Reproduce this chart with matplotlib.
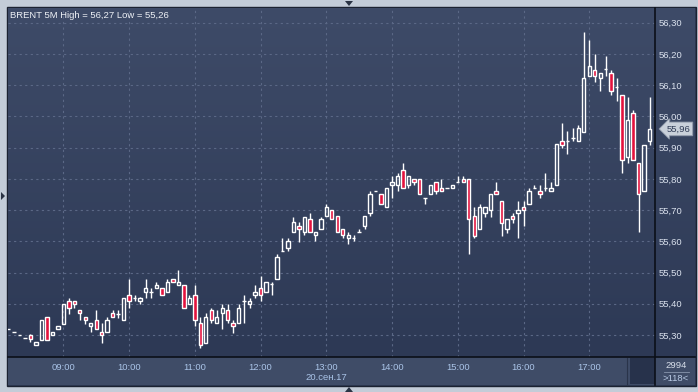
import numpy as np
import pandas as pd
import matplotlib
matplotlib.use("Agg")
import matplotlib.pyplot as plt
from matplotlib.patches import Rectangle, Polygon
from matplotlib.lines import Line2D
from matplotlib.colors import LinearSegmentedColormap

plt.rcParams["font.family"] = ["Liberation Sans", "DejaVu Sans"]

# 5 minute candles, BRENT, 20.09.2017
opens = [55.32, 55.31, 55.30, 55.29, 55.30, 55.267, 55.285, 55.357, 55.30, 55.318,
         55.336, 55.408, 55.408, 55.379, 55.357, 55.328, 55.347, 55.309, 55.309, 55.369,
         55.367, 55.347, 55.427, 55.418, 55.408, 55.437, 55.437, 55.449, 55.449, 55.437,
         55.478, 55.459, 55.459, 55.398, 55.427, 55.338, 55.275, 55.379, 55.338, 55.369,
         55.379, 55.338, 55.338, 55.408, 55.398, 55.427, 55.449, 55.437, 55.462, 55.478,
         55.568, 55.578, 55.63, 55.65, 55.63, 55.67, 55.619, 55.639, 55.68, 55.70,
         55.68, 55.639, 55.61, 55.61, 55.63, 55.648, 55.69, 55.76, 55.75, 55.709,
         55.78, 55.78, 55.83, 55.78, 55.80, 55.80, 55.74, 55.75, 55.79, 55.77,
         55.77, 55.77, 55.79, 55.80, 55.80, 55.68, 55.638, 55.69, 55.70, 55.76,
         55.73, 55.638, 55.68, 55.69, 55.71, 55.72, 55.77, 55.76, 55.77, 55.76,
         55.78, 55.92, 55.92, 55.93, 55.92, 55.95, 56.13, 56.15, 56.122, 56.152,
         56.14, 56.093, 56.07, 55.87, 56.01, 55.85, 55.76, 55.92]
highs = [55.32, 55.31, 55.30, 55.29, 55.303, 55.277, 55.347, 55.357, 55.309, 55.328,
         55.398, 55.418, 55.408, 55.379, 55.357, 55.338, 55.379, 55.338, 55.357, 55.379,
         55.379, 55.418, 55.479, 55.427, 55.423, 55.478, 55.449, 55.469, 55.449, 55.478,
         55.478, 55.508, 55.459, 55.427, 55.459, 55.358, 55.371, 55.388, 55.379, 55.398,
         55.398, 55.347, 55.398, 55.427, 55.418, 55.459, 55.488, 55.469, 55.469, 55.56,
         55.61, 55.61, 55.679, 55.661, 55.679, 55.69, 55.629, 55.679, 55.719, 55.70,
         55.68, 55.639, 55.63, 55.62, 55.64, 55.68, 55.76, 55.76, 55.75, 55.77,
         55.81, 55.82, 55.852, 55.81, 55.80, 55.80, 55.74, 55.78, 55.79, 55.80,
         55.77, 55.78, 55.81, 55.81, 55.80, 55.71, 55.72, 55.71, 55.75, 55.79,
         55.73, 55.67, 55.69, 55.73, 55.73, 55.77, 55.78, 55.78, 55.82, 55.79,
         55.912, 55.98, 55.953, 55.963, 55.973, 56.27, 56.245, 56.20, 56.14, 56.192,
         56.15, 56.122, 56.07, 56.062, 56.02, 55.85, 55.91, 56.062]
lows = [55.32, 55.31, 55.30, 55.29, 55.277, 55.267, 55.285, 55.285, 55.30, 55.318,
        55.336, 55.368, 55.387, 55.347, 55.336, 55.309, 55.318, 55.276, 55.309, 55.357,
        55.353, 55.347, 55.387, 55.408, 55.398, 55.418, 55.418, 55.449, 55.427, 55.437,
        55.469, 55.459, 55.388, 55.398, 55.328, 55.26, 55.275, 55.338, 55.338, 55.318,
        55.338, 55.307, 55.338, 55.338, 55.388, 55.418, 55.408, 55.437, 55.427, 55.478,
        55.568, 55.568, 55.63, 55.599, 55.62, 55.63, 55.60, 55.639, 55.68, 55.67,
        55.63, 55.61, 55.59, 55.60, 55.63, 55.638, 55.68, 55.76, 55.719, 55.709,
        55.738, 55.76, 55.77, 55.77, 55.78, 55.75, 55.719, 55.75, 55.75, 55.76,
        55.77, 55.77, 55.79, 55.79, 55.56, 55.61, 55.638, 55.679, 55.679, 55.75,
        55.618, 55.628, 55.66, 55.61, 55.648, 55.72, 55.77, 55.74, 55.76, 55.76,
        55.78, 55.90, 55.88, 55.92, 55.92, 55.95, 56.13, 56.11, 56.08, 56.13,
        56.07, 56.05, 55.82, 55.85, 55.86, 55.63, 55.76, 55.91]
closes = [55.32, 55.31, 55.30, 55.29, 55.287, 55.277, 55.347, 55.285, 55.309, 55.328,
          55.398, 55.387, 55.398, 55.369, 55.347, 55.338, 55.318, 55.30, 55.347, 55.357,
          55.367, 55.418, 55.408, 55.418, 55.418, 55.449, 55.437, 55.459, 55.427, 55.469,
          55.469, 55.469, 55.388, 55.418, 55.347, 55.267, 55.358, 55.347, 55.358, 55.388,
          55.347, 55.328, 55.388, 55.408, 55.408, 55.437, 55.427, 55.469, 55.462, 55.551,
          55.568, 55.602, 55.661, 55.64, 55.679, 55.63, 55.629, 55.67, 55.709, 55.67,
          55.63, 55.62, 55.62, 55.61, 55.63, 55.68, 55.75, 55.76, 55.719, 55.77,
          55.79, 55.81, 55.77, 55.81, 55.79, 55.75, 55.74, 55.78, 55.76, 55.76,
          55.77, 55.78, 55.79, 55.79, 55.67, 55.618, 55.71, 55.71, 55.75, 55.75,
          55.66, 55.67, 55.67, 55.70, 55.70, 55.76, 55.77, 55.75, 55.77, 55.77,
          55.912, 55.91, 55.92, 55.93, 55.963, 56.123, 56.16, 56.13, 56.14, 56.152,
          56.08, 56.093, 55.86, 55.99, 55.86, 55.75, 55.91, 55.96]
times = pd.date_range("2017-09-20 08:10", periods=len(opens), freq="5min")
price_ticks = [55.30, 55.40, 55.50, 55.60, 55.70, 55.80, 55.90, 56.00, 56.10, 56.20, 56.30]
title = "BRENT 5M High = 56,27 Low = 55,26"
date_label = "20.сен.17"
bar_count = "2994"
visible_bars = ">118<"

W, H = 698, 392
FS = 6.8


def box(x0, y0, x1, y1):
    # pixel box (top-left origin) -> figure fraction rect
    return [x0 / W, 1 - y1 / H, (x1 - x0) / W, (y1 - y0) / H]


def fx(x):
    return x / W


def fy(y):
    return 1 - y / H


fig = plt.figure(figsize=(W / 100, H / 100), dpi=100)
fig.patch.set_facecolor("#c3ccd8")

# panel frame
fig.patches.append(Rectangle((fx(7), fy(386)), (696 - 7) / W, (386 - 7) / H,
                             transform=fig.transFigure, fc="#2f3b56", ec="#1b2231",
                             lw=1, zorder=-3))

# bottom time strip
fig.patches.append(Rectangle((fx(8), fy(385)), (695 - 8) / W, (385 - 357) / H,
                             transform=fig.transFigure, fc="#3f4c67", ec="none", zorder=-2))
fig.patches.append(Rectangle((fx(630), fy(384)), 25 / W, 26 / H,
                             transform=fig.transFigure, fc="#27324b", ec="none", zorder=-1))

# gradient background of plot + price scale
bg = fig.add_axes(box(8, 8, 695, 357))
grad = np.linspace(0, 1, 256).reshape(-1, 1)
cmap = LinearSegmentedColormap.from_list("bg", ["#3e4b68", "#2d3955"])
bg.imshow(grad, aspect="auto", cmap=cmap, extent=[0, 1, 0, 1])
bg.axis("off")

fig.add_artist(Line2D([fx(627), fx(627)], [fy(384), fy(358)], color="#2a344a", lw=0.8))
fig.add_artist(Line2D([fx(8), fx(695)], [fy(357), fy(357)], color="#0b0f18", lw=1.2))
fig.add_artist(Line2D([fx(655), fx(655)], [fy(8), fy(385)], color="#0b0f18", lw=1.2))

ax = fig.add_axes(box(8, 9, 655, 357))
ax.patch.set_alpha(0)
for s in ax.spines.values():
    s.set_visible(False)

o = np.array(opens)
c = np.array(closes)
x = np.arange(len(o))
body_lo = np.minimum(o, c)
body_hi = np.maximum(o, c)
ax.vlines(x, body_hi, highs, color="white", lw=1, zorder=3)
ax.vlines(x, lows, body_lo, color="white", lw=1, zorder=3)
fills = ["#e3123d" if cc < oo else "none" for oo, cc in zip(opens, closes)]
ax.bar(x, body_hi - body_lo, bottom=body_lo, width=0.62, color=fills,
       edgecolor="white", linewidth=1, zorder=4)

ax.set_xlim(-0.1, 118.0)
ax.set_ylim(55.2296, 56.344)

labels = list(times.strftime("%H:%M"))
hour_idx = [i for i, t in enumerate(times) if t.minute == 0]
ax.set_xticks(hour_idx)
ax.set_xticklabels([labels[i] for i in hour_idx])
ax.tick_params(axis="x", length=0, pad=4, labelsize=FS, labelcolor="#aac4e8")

ax.yaxis.tick_right()
ax.set_yticks(price_ticks)
ax.set_yticklabels([f"{v:.2f}".replace(".", ",") for v in price_ticks])
ax.tick_params(axis="y", length=0, pad=3, labelsize=FS, labelcolor="#dbe2ee")

ax.grid(True, color="#5b6886", linestyle=(0, (2, 3)), linewidth=0.8, zorder=0)
ax.set_axisbelow(True)

ax.text(labels.index("13:00"), -0.058, date_label, transform=ax.get_xaxis_transform(),
        ha="center", va="center", fontsize=FS, color="#aac4e8")

# last price tag
ax.text(1.018, closes[-1], f"{closes[-1]:.2f}".replace(".", ","),
        transform=ax.get_yaxis_transform(), ha="left", va="center", fontsize=FS,
        color="#2f3b55", zorder=6,
        bbox=dict(boxstyle="larrow,pad=0.25", fc="#c9d0da", ec="#8d97a8", lw=0.6))

fig.text(fx(10), fy(15), title, ha="left", va="center", fontsize=FS, color="#eef1f6")

fig.text(fx(676), fy(365.5), bar_count, ha="center", va="center", fontsize=FS, color="#d8dfea")
fig.add_artist(Line2D([fx(664), fx(689)], [fy(372), fy(372)], color="#8895ad", lw=0.6))
fig.text(fx(676), fy(378.5), visible_bars, ha="center", va="center", fontsize=FS, color="#b9cae4")

# small scroll arrows of the terminal window
tri = "#2a3344"
fig.patches.append(Polygon([(fx(345), fy(1)), (fx(353), fy(1)), (fx(349), fy(6))],
                           closed=True, transform=fig.transFigure, fc=tri, ec="none"))
fig.patches.append(Polygon([(fx(345), fy(392)), (fx(353), fy(392)), (fx(349), fy(387))],
                           closed=True, transform=fig.transFigure, fc=tri, ec="none"))
fig.patches.append(Polygon([(fx(1), fy(192)), (fx(1), fy(200)), (fx(5), fy(196))],
                           closed=True, transform=fig.transFigure, fc=tri, ec="none"))

fig.savefig("out.png", dpi=100, facecolor=fig.get_facecolor())
